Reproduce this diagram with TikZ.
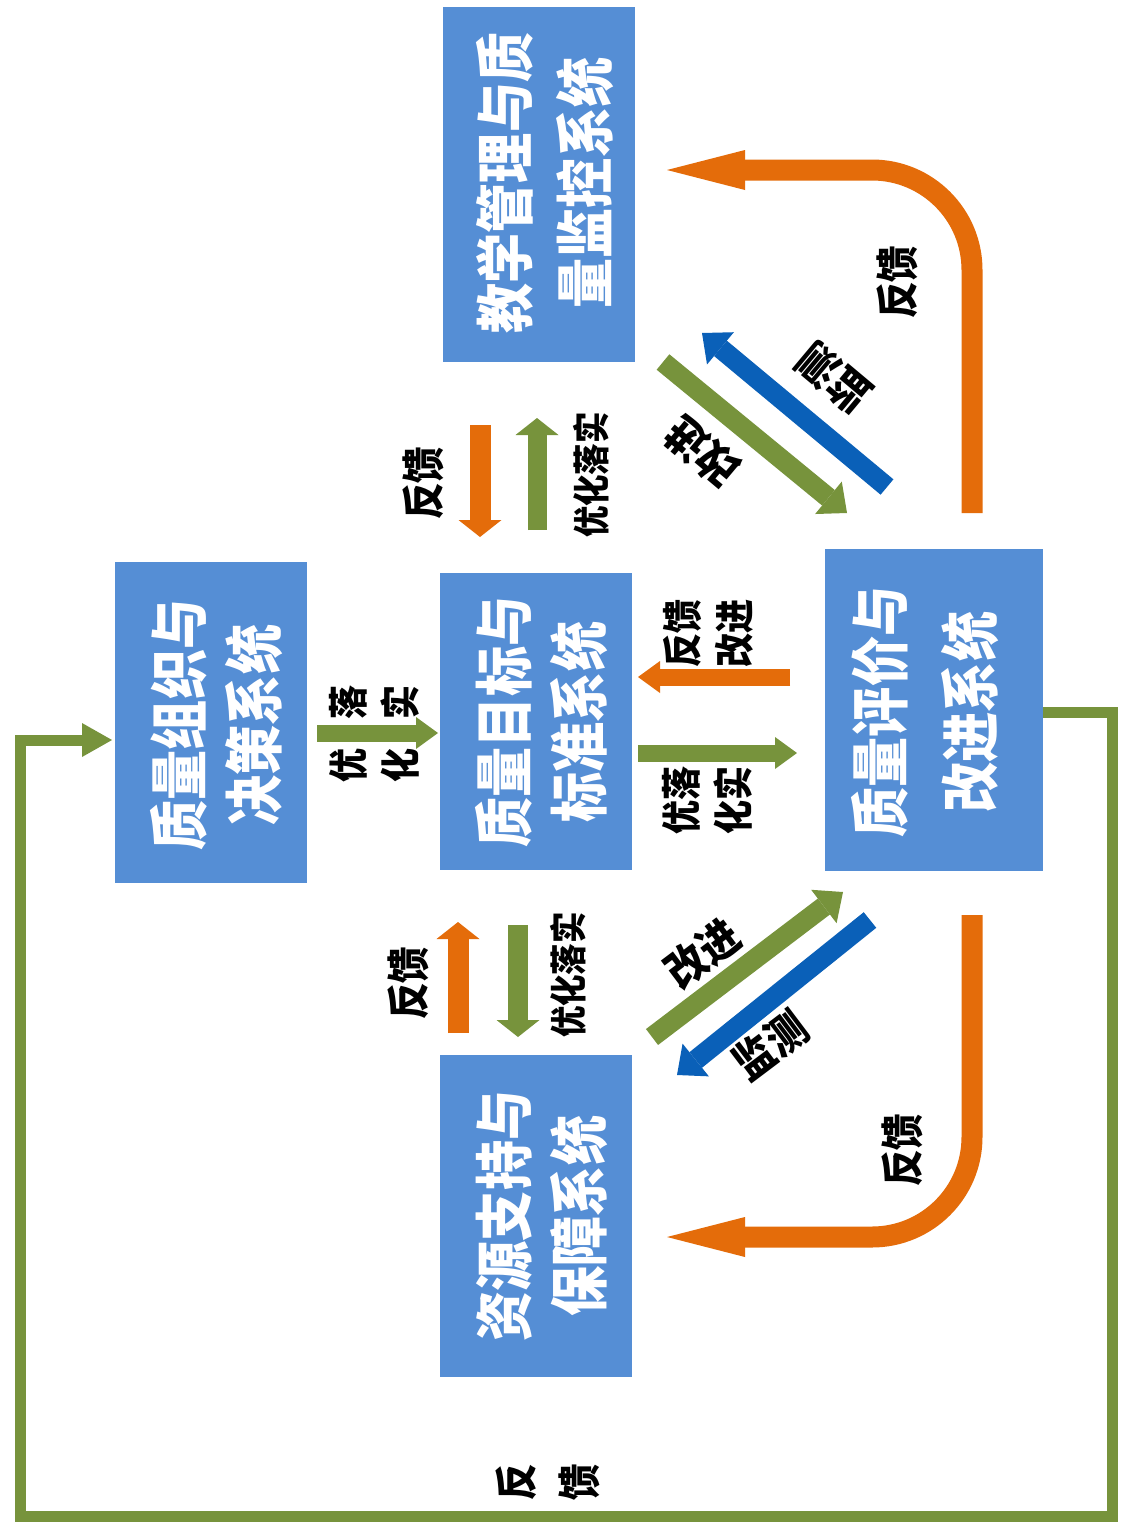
\documentclass[tikz,border=0pt]{standalone}
\usepackage{fontspec}
\newfontfamily\cjk{Noto Sans CJK SC}
\usetikzlibrary{arrows.meta}
\definecolor{boxblue}{RGB}{85,142,213}
\definecolor{org}{RGB}{228,108,10}
\definecolor{grn}{RGB}{119,147,60}
\definecolor{blu}{RGB}{10,96,184}
\begin{document}
\begin{tikzpicture}[x=1pt,y=-1pt,
  box/.style={fill=boxblue, draw=none, inner sep=0pt},
  boxtext/.style={rotate=90, xscale=0.85, text=white, align=center, inner sep=0pt,
    font=\cjk\bfseries\fontsize{59}{75}\selectfont},
  lbl/.style={rotate=90, xscale=0.85, text=black, align=center, inner sep=0pt,
    font=\cjk\bfseries\fontsize{43}{52}\selectfont},
  slbl/.style={rotate=90, xscale=0.85, text=black, align=center, inner sep=0pt,
    font=\cjk\bfseries\fontsize{37}{52}\selectfont},
  dlbl/.style={rotate=#1, xscale=0.9, text=black, inner sep=0pt,
    font=\cjk\bfseries\fontsize{44}{52}\selectfont},
  vthick/.style={line width=21pt, -{Triangle[length=17pt,width=43pt,line width=0pt]}},
  hthin/.style={line width=17pt, -{Triangle[length=22pt,width=32pt,line width=0pt]}},
  diag/.style={line width=20pt, -{Triangle[length=24pt,width=42pt,line width=0pt]}},
  curved/.style={line width=21pt, rounded corners=100pt, -{Triangle[length=78pt,width=40pt,line width=0pt]}},
  loop/.style={line width=11pt, line join=miter, -{Triangle[length=30pt,width=34pt,line width=0pt]}}
]
\fill[white] (0,0) rectangle (1128,1526);
\useasboundingbox (0,0) rectangle (1128,1526);

% boxes
\node[box, minimum width=192pt, minimum height=355pt] (b1) at (539,184.5) {};
\node[box, minimum width=192pt, minimum height=321pt] (b2) at (211,722.5) {};
\node[box, minimum width=192pt, minimum height=297pt] (b3) at (536,721.5) {};
\node[box, minimum width=218pt, minimum height=322pt] (b4) at (934,710) {};
\node[box, minimum width=192pt, minimum height=322pt] (b5) at (536,1216) {};

\node[boxtext, font=\cjk\bfseries\fontsize{59}{80}\selectfont] (t1) at (545,183) {教学管理与质\\量监控系统};
\node[boxtext] (t2) at (217,725) {质量组织与\\决策系统};
\node[boxtext] (t3) at (542,722) {质量目标与\\标准系统};
\node[boxtext, font=\cjk\bfseries\fontsize{59}{90}\selectfont] (t4) at (925,712) {质量评价与\\改进系统};
\node[boxtext] (t5) at (542,1216) {资源支持与\\保障系统};

% coordinates for connector ends
\coordinate (c1s) at (972,513);  \coordinate (c1m) at (972,170);  \coordinate (c1e) at (667,170);
\coordinate (c2s) at (972,915);  \coordinate (c2m) at (972,1237); \coordinate (c2e) at (667,1237);
\coordinate (g1) at (1112,712); \coordinate (g2) at (1112,1516);
\coordinate (g3) at (20,1516);  \coordinate (g4) at (20,740);
\coordinate (g5) at (112,740);

\coordinate (v1s) at (480,425); \coordinate (v1e) at (480,537);
\coordinate (v2s) at (537,530); \coordinate (v2e) at (537,418);
\coordinate (h1s) at (317,733); \coordinate (h1e) at (438,733);
\coordinate (h2s) at (790,677); \coordinate (h2e) at (638,677);
\coordinate (h3s) at (638,753); \coordinate (h3e) at (797,753);
\coordinate (v3s) at (458,1033); \coordinate (v3e) at (458,922);
\coordinate (v4s) at (518,925); \coordinate (v4e) at (518,1037);

\coordinate (d1s) at (663,362); \coordinate (d1e) at (847,513);
\coordinate (d2s) at (887,487); \coordinate (d2e) at (702,333);
\coordinate (d3s) at (652,1037); \coordinate (d3e) at (843,892);
\coordinate (d4s) at (870,920); \coordinate (d4e) at (677,1075);

% curved feedback arrows
\draw[org, curved] (c1s) -- (c1m) -- (c1e);
\draw[org, curved] (c2s) -- (c2m) -- (c2e);

% big green loop
\draw[grn, loop] (b4.east |- g1) -- (g1) -- (g2) -- (g3) -- (g4) -- (g5);

% straight arrows
\draw[org, vthick] (v1s) -- (v1e);
\draw[grn, vthick, line width=19pt] (v2s) -- (v2e);
\draw[grn, hthin] (h1s) -- (h1e);
\draw[org, hthin] (h2s) -- (h2e);
\draw[grn, hthin] (h3s) -- (h3e);
\draw[org, vthick] (v3s) -- (v3e);
\draw[grn, vthick, line width=20pt] (v4s) -- (v4e);

% diagonal arrows
\draw[grn, diag] (d1s) -- (d1e);
\draw[blu, diag] (d2s) -- (d2e);
\draw[grn, diag] (d3s) -- (d3e);
\draw[blu, diag] (d4s) -- (d4e);

% labels
\node[lbl] (l1) at (423,483) {反馈};
\node[slbl] (l2) at (591,475) {优化落实};
\node[dlbl=140] (l3) at (702,452) {改进};
\node[dlbl=140] (l4) at (834,378) {监测};
\node[lbl, font=\cjk\bfseries\fontsize{40}{52}\selectfont] (l5) at (374,702) {落\\实};
\node[lbl, font=\cjk\bfseries\fontsize{40}{52}\selectfont] (l6) at (374,765) {优\\化};
\node[lbl, font=\cjk\bfseries\fontsize{40}{52}\selectfont] (l7) at (708,633) {反馈\\改进};
\node[lbl, font=\cjk\bfseries\fontsize{40}{52}\selectfont] (l8) at (707,800) {优落\\化实};
\node[lbl] (l9) at (408,983) {反馈};
\node[slbl] (l10) at (568,975) {优化落实};
\node[dlbl=37] (l11) at (702,953) {改进};
\node[dlbl=37] (l12) at (770,1045) {监测};
\node[lbl] (l13) at (897,282) {反馈};
\node[lbl] (l14) at (902,1150) {反馈};
\node[lbl, font=\cjk\bfseries\fontsize{43}{63}\selectfont] (l15) at (548,1482) {反\\馈};
\end{tikzpicture}
\end{document}
